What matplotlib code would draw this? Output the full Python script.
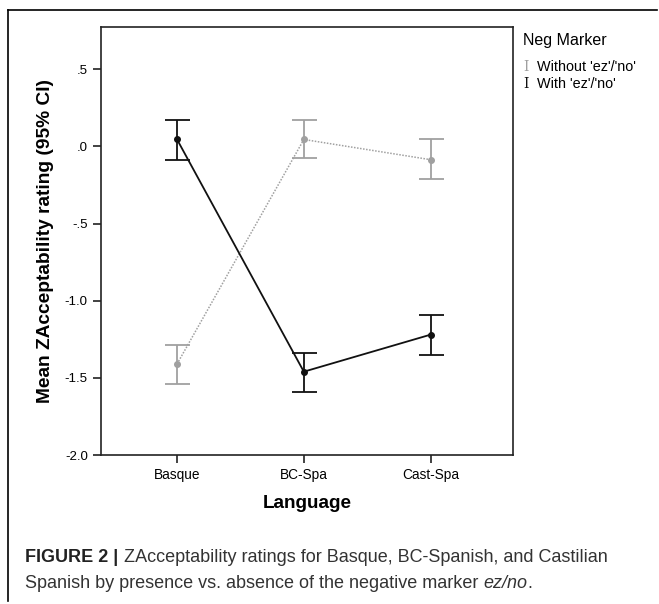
import matplotlib
matplotlib.use("Agg")
import matplotlib.pyplot as plt
from matplotlib.lines import Line2D

plt.rcParams["font.family"] = ["Liberation Sans", "DejaVu Sans"]

LANGUAGES = ["Basque", "BC-Spa", "Cast-Spa"]
WITH_MEAN = [0.045, -1.46, -1.22]
WITH_LO = [-0.086, -1.59, -1.35]
WITH_HI = [0.17, -1.34, -1.09]
WITHOUT_MEAN = [-1.41, 0.045, -0.086]
WITHOUT_LO = [-1.54, -0.073, -0.213]
WITHOUT_HI = [-1.29, 0.17, 0.045]
YTICKS = [0.5, 0.0, -0.5, -1.0, -1.5, -2.0]
YTICKLABELS = [".5", ".0", "-.5", "-1.0", "-1.5", "-2.0"]

GRAY = "#a0a0a0"

fig = plt.figure(figsize=(6.59, 6.04), dpi=100)
W, H = 659, 604
ax = fig.add_axes([101 / W, 1 - 455 / H, (513 - 101) / W, (455 - 27) / H])

x = list(range(len(LANGUAGES)))


def draw(mean, lo, hi, color, ls, lw):
    yerr = [[m - l for m, l in zip(mean, lo)], [h - m for m, h in zip(mean, hi)]]
    ax.errorbar(x, mean, yerr=yerr, fmt="none", ecolor=color, elinewidth=1.3,
                capsize=9, capthick=1.3, zorder=2)
    ax.plot(x, mean, color=color, ls=ls, lw=lw, marker="o", ms=4, zorder=3)


draw(WITHOUT_MEAN, WITHOUT_LO, WITHOUT_HI, GRAY, (0, (1, 1)), 1.1)
draw(WITH_MEAN, WITH_LO, WITH_HI, "#111111", "-", 1.3)

ax.set_xlim(-0.6, 2.65)
ax.set_ylim(-2.0, 0.774)
ax.set_xticks(x)
ax.set_xticklabels(LANGUAGES, fontsize=9.8)
ax.set_yticks(YTICKS)
ax.set_yticklabels(YTICKLABELS, fontsize=9.5)
ax.tick_params(direction="out", length=6, width=1.2, color="#222222")
for s in ax.spines.values():
    s.set_linewidth(1.2)
    s.set_color("#222222")
ax.set_xlabel("Language", fontsize=13.6, fontweight="bold", labelpad=9)
ax.set_ylabel("Mean ZAcceptability rating (95% CI)", fontsize=13.8,
              fontweight="bold", labelpad=8)

# legend
fig.text(523 / W, 1 - 41 / H, "Neg Marker", fontsize=11.5, va="center", ha="left")
fig.text(523 / W, 1 - 67 / H, "I", family="DejaVu Serif", fontsize=10,
         color=GRAY, va="center", ha="left")
fig.text(537 / W, 1 - 67 / H, "Without 'ez'/'no'", fontsize=10.4, va="center", ha="left")
fig.text(523 / W, 1 - 84 / H, "I", family="DejaVu Serif", fontsize=10,
         color="#111111", va="center", ha="left")
fig.text(537 / W, 1 - 84 / H, "With 'ez'/'no'", fontsize=10.4, va="center", ha="left")

# outer frame
fig.add_artist(Line2D([8 / W, 8 / W], [1 - 601 / H, 1 - 10 / H], color="black", lw=1.2))
fig.add_artist(Line2D([8 / W, 657 / W], [1 - 10 / H, 1 - 10 / H], color="black", lw=1.2))

# caption
fig.text(25 / W, 1 - 562 / H, "FIGURE 2 |", fontsize=13, fontweight="bold",
         color="#222222", va="baseline", ha="left")
fig.text(124 / W, 1 - 562 / H,
         "ZAcceptability ratings for Basque, BC-Spanish, and Castilian",
         fontsize=13, color="#333333", va="baseline", ha="left")

renderer = fig.canvas.get_renderer()
xpos = 25
for part, style in [("Spanish by presence vs. absence of the negative marker ", "normal"),
                    ("ez/no", "italic"), (".", "normal")]:
    t = fig.text(xpos / W, 1 - 588 / H, part, fontsize=13, color="#333333",
                 style=style, va="baseline", ha="left")
    xpos += t.get_window_extent(renderer).width

fig.savefig("out.png", dpi=100)
